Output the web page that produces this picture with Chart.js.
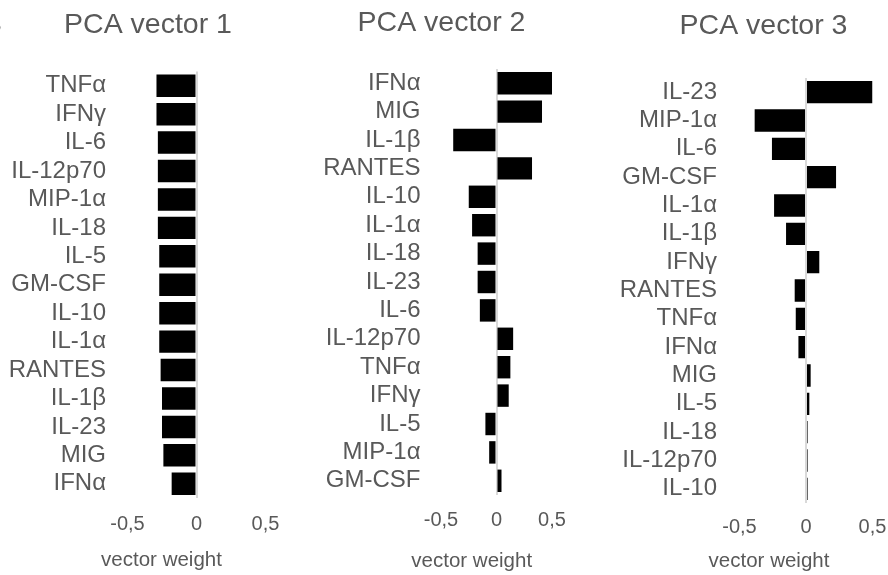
<!DOCTYPE html>
<html>
<head>
<meta charset="utf-8">
<script src="https://cdn.jsdelivr.net/npm/chart.js@4/dist/chart.umd.min.js"></script>
<style>
  html, body { margin: 0; padding: 0; background: #ffffff; }
  #wrap { position: relative; width: 888px; height: 575px; overflow: hidden; }
  #wrap canvas { position: absolute; top: 0; }
</style>
</head>
<body>
<div id="wrap">
  <canvas id="pca1" width="300" height="575"></canvas>
  <canvas id="pca2" width="300" height="575"></canvas>
  <canvas id="pca3" width="300" height="575"></canvas>
</div>
<script>
// Cytokine loadings, ordered top to bottom as listed in each panel
const cytokines1 = ['TNFα', 'IFNγ', 'IL-6', 'IL-12p70', 'MIP-1α', 'IL-18', 'IL-5', 'GM-CSF',
                    'IL-10', 'IL-1α', 'RANTES', 'IL-1β', 'IL-23', 'MIG', 'IFNα'];
const weights1   = [-0.29, -0.29, -0.28, -0.28, -0.28, -0.28, -0.27, -0.27,
                    -0.27, -0.27, -0.26, -0.25, -0.25, -0.24, -0.18];

const cytokines2 = ['IFNα', 'MIG', 'IL-1β', 'RANTES', 'IL-10', 'IL-1α', 'IL-18', 'IL-23',
                    'IL-6', 'IL-12p70', 'TNFα', 'IFNγ', 'IL-5', 'MIP-1α', 'GM-CSF'];
const weights2   = [0.50, 0.41, -0.39, 0.32, -0.25, -0.22, -0.17, -0.17,
                    -0.15, 0.15, 0.125, 0.11, -0.10, -0.066, 0.045];

const cytokines3 = ['IL-23', 'MIP-1α', 'IL-6', 'GM-CSF', 'IL-1α', 'IL-1β', 'IFNγ', 'RANTES',
                    'TNFα', 'IFNα', 'MIG', 'IL-5', 'IL-18', 'IL-12p70', 'IL-10'];
const weights3   = [0.50, -0.386, -0.256, 0.226, -0.24, -0.15, 0.10, -0.085,
                    -0.077, -0.057, 0.035, 0.025, 0.012, 0.012, 0.012];

const panelTitles = ['PCA vector 1', 'PCA vector 2', 'PCA vector 3'];
const axisTitle = 'vector weight';
const weightTicks = [-0.5, 0, 0.5];
const tickLabels = ['-0,5', '0', '0,5'];
const panelLetter = 'B';

const FONT = '"Liberation Sans", Arial, "DejaVu Sans", sans-serif';
const TEXT = '#595959';

// Page layout of each panel (canvas offset and plot-area box in page pixels)
const layouts = [
  { id: 'pca1', left: 0,   area: { left: 127.5, right: 265.5, top: 71.5, bottom: 498 },
    labelPad: 21.5, tickPad: 14, title: [148, 33], xTitle: [161.5, 566], letter: true },
  { id: 'pca2', left: 290, area: { left: 441,   right: 552,   top: 69,   bottom: 495 },
    labelPad: 20.5, tickPad: 13.5, title: [441.5, 31], xTitle: [471.7, 566.5] },
  { id: 'pca3', left: 588, area: { left: 739.5, right: 872.5, top: 78,   bottom: 503 },
    labelPad: 22.5, tickPad: 12, title: [763.5, 34], xTitle: [769, 566.5] }
];

const series = [
  { labels: cytokines1, values: weights1 },
  { labels: cytokines2, values: weights2 },
  { labels: cytokines3, values: weights3 }
];

// Draws the panel title, the axis caption and the panel letter
const captions = {
  id: 'captions',
  afterDraw(chart, args, opts) {
    const ctx = chart.ctx;
    ctx.save();
    ctx.fillStyle = TEXT;
    ctx.textBaseline = 'alphabetic';
    ctx.textAlign = 'center';
    ctx.font = '28.5px ' + FONT;
    ctx.fillText(opts.title, opts.titleX, opts.titleY);
    ctx.font = '20.5px ' + FONT;
    ctx.fillText(opts.xTitle, opts.xTitleX, opts.xTitleY);
    if (opts.letter) {
      ctx.textAlign = 'right';
      ctx.font = '28px ' + FONT;
      ctx.fillText(opts.letter, 2, 33);
    }
    ctx.restore();
  }
};

layouts.forEach((lay, i) => {
  const canvas = document.getElementById(lay.id);
  canvas.style.left = lay.left + 'px';
  const W = canvas.width, H = canvas.height;
  const areaLeft = lay.area.left - lay.left;
  const areaRight = lay.area.right - lay.left;

  new Chart(canvas, {
    type: 'bar',
    data: {
      labels: series[i].labels,
      datasets: [{
        data: series[i].values,
        backgroundColor: '#000000',
        borderWidth: 0,
        barPercentage: 0.79,
        categoryPercentage: 1.0
      }]
    },
    plugins: [captions],
    options: {
      indexAxis: 'y',
      responsive: false,
      animation: false,
      devicePixelRatio: 1,
      layout: { padding: { left: 0, top: lay.area.top, right: W - areaRight, bottom: 0 } },
      plugins: {
        legend: { display: false },
        tooltip: { enabled: false },
        title: { display: false },
        captions: {
          title: panelTitles[i],
          titleX: lay.title[0] - lay.left, titleY: lay.title[1],
          xTitle: axisTitle,
          xTitleX: lay.xTitle[0] - lay.left, xTitleY: lay.xTitle[1],
          letter: lay.letter ? panelLetter : null
        }
      },
      scales: {
        x: {
          type: 'linear',
          min: weightTicks[0],
          max: weightTicks[weightTicks.length - 1],
          z: 1,
          afterBuildTicks: (scale) => { scale.ticks = weightTicks.map(v => ({ value: v })); },
          afterFit: (scale) => {
            scale.height = H - lay.area.bottom;
            scale.paddingLeft = 0;
            scale.paddingRight = 0;
          },
          border: { display: false },
          grid: {
            drawTicks: false,
            tickLength: 0,
            lineWidth: 2,
            color: (c) => (c.tick && c.tick.value === 0) ? '#d9d9d9' : 'rgba(0,0,0,0)'
          },
          ticks: {
            padding: lay.tickPad,
            color: TEXT,
            font: { family: FONT, size: 20, lineHeight: 1.2 },
            maxRotation: 0,
            autoSkip: false,
            callback: (v) => tickLabels[weightTicks.indexOf(v)]
          }
        },
        y: {
          type: 'category',
          afterFit: (scale) => {
            scale.width = areaLeft;
            scale.paddingTop = 0;
            scale.paddingBottom = 0;
          },
          border: { display: false },
          grid: { display: false, drawTicks: false },
          ticks: {
            padding: lay.labelPad,
            color: TEXT,
            autoSkip: false,
            font: { family: FONT, size: 24, lineHeight: 1.2 }
          }
        }
      }
    }
  });
});
</script>
</body>
</html>
